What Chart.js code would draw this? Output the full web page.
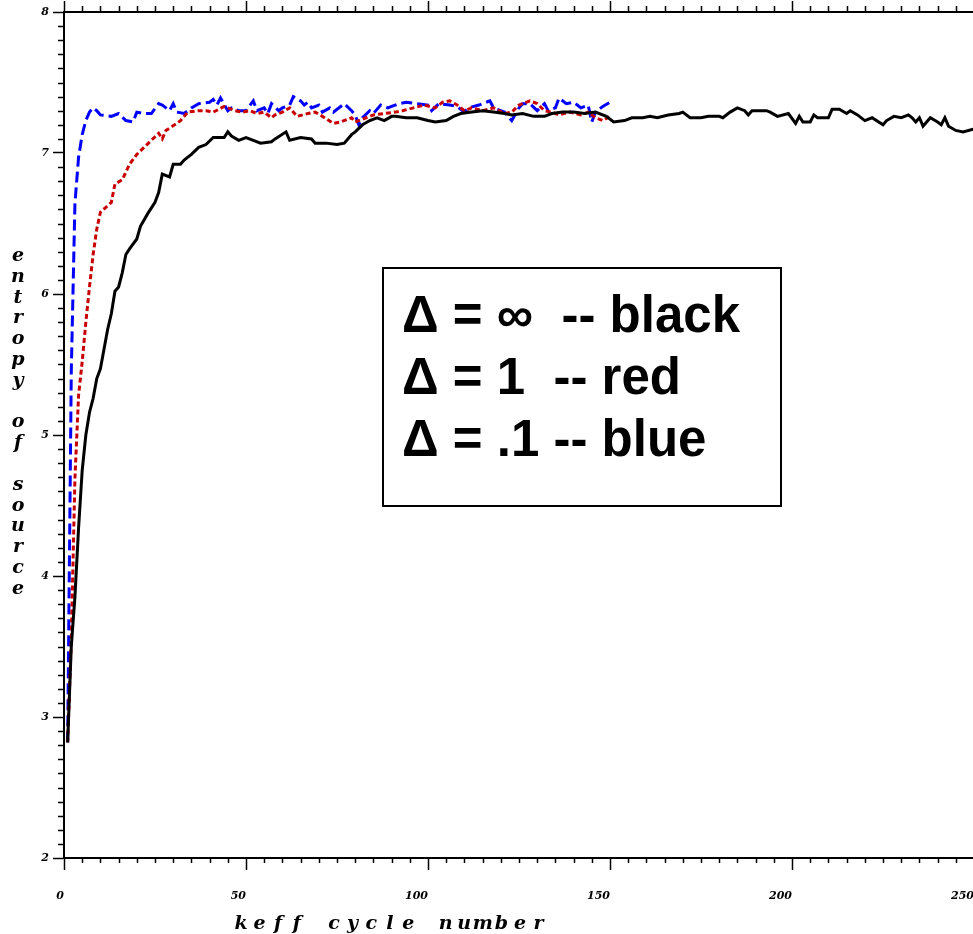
<!DOCTYPE html>
<html>
<head>
<meta charset="utf-8">
<title>entropy of source</title>
<script src="https://cdn.jsdelivr.net/npm/chart.js@4.4.0/dist/chart.umd.min.js"></script>
<style>
  html, body { margin: 0; padding: 0; background: #fff; overflow: hidden; }
  #wrap { width: 1000px; height: 934px; }
</style>
</head>
<body>
<div id="wrap"><canvas id="graph_entropy" width="1000" height="934"></canvas></div>
<script>

// values (cycle / entropy)
const blackCycles = [1, 2, 3, 4, 5, 6, 7, 8, 9, 10, 11, 12, 13, 14, 15, 16, 17, 18, 20, 21, 23, 25, 26, 27, 29, 30, 32, 33, 35, 37, 39, 41, 44, 45, 46, 48, 50, 52, 54, 57, 58, 61, 62, 65, 68, 69, 72, 75, 77, 79, 80, 82, 84, 86, 88, 90, 91, 94, 97, 100, 102, 105, 107, 109, 112, 115, 118, 121, 123, 126, 129, 132, 134, 137, 140, 143, 146, 149, 151, 154, 156, 159, 161, 163, 166, 169, 170, 172, 175, 177, 180, 181, 183, 185, 187, 188, 189, 193, 194, 196, 199, 201, 202, 203, 205, 206, 207, 210, 211, 213, 215, 216, 218, 220, 222, 225, 226, 228, 230, 232, 233, 234, 235, 236, 238, 240, 241, 242, 243, 245, 247, 250];
const blackEntropy = [2.82, 3.5, 3.85, 4.34, 4.75, 5.0, 5.16, 5.26, 5.40, 5.47, 5.61, 5.75, 5.86, 6.02, 6.05, 6.15, 6.28, 6.32, 6.39, 6.48, 6.57, 6.65, 6.72, 6.85, 6.83, 6.92, 6.92, 6.95, 6.99, 7.04, 7.06, 7.11, 7.11, 7.15, 7.12, 7.09, 7.11, 7.09, 7.07, 7.08, 7.10, 7.15, 7.09, 7.11, 7.10, 7.07, 7.07, 7.06, 7.07, 7.13, 7.15, 7.20, 7.23, 7.25, 7.23, 7.26, 7.26, 7.25, 7.25, 7.23, 7.22, 7.23, 7.26, 7.28, 7.29, 7.30, 7.29, 7.28, 7.27, 7.28, 7.26, 7.26, 7.28, 7.29, 7.29, 7.28, 7.29, 7.26, 7.22, 7.23, 7.25, 7.25, 7.26, 7.25, 7.27, 7.28, 7.29, 7.25, 7.25, 7.26, 7.26, 7.25, 7.29, 7.32, 7.30, 7.27, 7.30, 7.30, 7.29, 7.26, 7.28, 7.21, 7.26, 7.22, 7.22, 7.27, 7.25, 7.25, 7.31, 7.31, 7.28, 7.30, 7.27, 7.23, 7.25, 7.20, 7.23, 7.26, 7.25, 7.27, 7.25, 7.22, 7.25, 7.19, 7.25, 7.22, 7.20, 7.25, 7.19, 7.16, 7.15, 7.17];

const redCycles = [1, 2, 3, 4, 5, 6, 7, 8, 9, 10, 13, 14, 16, 18, 20, 22, 24, 26, 27, 28, 31, 32, 34, 37, 39, 41, 44, 47, 49, 51, 53, 55, 57, 58, 60, 62, 64, 67, 69, 71, 74, 76, 79, 80, 83, 85, 88, 91, 93, 96, 99, 102, 104, 106, 108, 110, 112, 115, 118, 121, 123, 125, 128, 130, 132, 134, 136, 139, 142, 144, 146, 148, 150];
const redEntropy = [2.82, 3.55, 4.69, 5.28, 5.52, 5.80, 6.05, 6.28, 6.46, 6.58, 6.65, 6.78, 6.81, 6.92, 6.99, 7.04, 7.09, 7.14, 7.10, 7.16, 7.21, 7.23, 7.29, 7.30, 7.30, 7.29, 7.33, 7.30, 7.29, 7.30, 7.28, 7.29, 7.25, 7.27, 7.29, 7.32, 7.26, 7.28, 7.29, 7.26, 7.21, 7.22, 7.25, 7.22, 7.25, 7.27, 7.28, 7.29, 7.30, 7.32, 7.34, 7.32, 7.36, 7.37, 7.34, 7.30, 7.32, 7.30, 7.32, 7.28, 7.29, 7.34, 7.37, 7.35, 7.30, 7.29, 7.27, 7.29, 7.27, 7.29, 7.25, 7.23, 7.26];

const blueCycles = [1, 2, 3, 4, 5, 6, 7, 8, 9, 10, 13, 15, 17, 19, 20, 22, 24, 26, 27, 29, 30, 31, 33, 35, 37, 40, 41, 42, 43, 45, 46, 48, 50, 52, 53, 55, 56, 57, 59, 60, 62, 63, 65, 66, 67, 68, 70, 71, 73, 74, 76, 77, 79, 80, 81, 82, 84, 85, 87, 89, 90, 92, 94, 97, 100, 101, 103, 106, 108, 110, 111, 114, 117, 118, 121, 122, 123, 125, 126, 128, 130, 132, 133, 135, 136, 138, 140, 142, 144, 145, 146, 148, 150];
const blueEntropy = [2.82, 5.45, 6.64, 6.97, 7.13, 7.23, 7.29, 7.32, 7.30, 7.27, 7.26, 7.28, 7.23, 7.22, 7.29, 7.28, 7.28, 7.35, 7.34, 7.30, 7.35, 7.29, 7.28, 7.32, 7.35, 7.36, 7.38, 7.34, 7.39, 7.30, 7.32, 7.30, 7.30, 7.37, 7.30, 7.32, 7.28, 7.35, 7.30, 7.32, 7.34, 7.40, 7.37, 7.34, 7.36, 7.32, 7.34, 7.29, 7.32, 7.29, 7.33, 7.35, 7.30, 7.27, 7.20, 7.25, 7.30, 7.28, 7.34, 7.32, 7.33, 7.35, 7.36, 7.35, 7.34, 7.30, 7.35, 7.34, 7.33, 7.29, 7.32, 7.34, 7.37, 7.32, 7.29, 7.26, 7.23, 7.32, 7.35, 7.35, 7.30, 7.35, 7.30, 7.32, 7.39, 7.35, 7.36, 7.32, 7.34, 7.22, 7.29, 7.33, 7.36];

const xTicks = [0, 50, 100, 150, 200, 250];
const yTicks = [2, 3, 4, 5, 6, 7, 8];
const xTitle = 'keff cycle number';
const yTitle = 'entropy of source';
const legendLines = ['\u0394 = \u221e  -- black', '\u0394 = 1  -- red', '\u0394 = .1 -- blue'];

function pairs(xs, ys) {
	return xs.map((x, i) => ({ x: x, y: ys[i] }));
}

const tickFont = { family: '"DejaVu Serif", serif', size: 11, style: 'italic', weight: 'bold' };

// minor ticks, top axis, frame, titles and the text box
const extras = {
	id: 'extras',
	afterDraw(chart) {
		const c = chart.ctx;
		const a = chart.chartArea;
		const xs = chart.scales.x;
		const ys = chart.scales.y;
		c.save();
		c.strokeStyle = '#000';
		c.lineWidth = 2;
		c.beginPath();
		c.moveTo(a.left, a.top);
		c.lineTo(a.right, a.top);
		c.lineTo(a.right, a.bottom);
		c.stroke();

		c.lineWidth = 1.5;
		c.beginPath();
		for (let v = 0; v <= 250; v += 5) {
			const px = Math.round(xs.getPixelForValue(v)) + 0.5;
			const major = v % 50 === 0;
			if (!major) {
				c.moveTo(px, a.bottom);
				c.lineTo(px, a.bottom + 5);
			}
			c.moveTo(px, a.top);
			c.lineTo(px, a.top - (major ? 11 : 6));
		}
		for (let k = 20; k <= 80; k++) {
			if (k % 10 === 0) continue;
			const py = Math.round(ys.getPixelForValue(k / 10)) + 0.5;
			c.moveTo(a.left, py);
			c.lineTo(a.left - 6, py);
		}
		c.stroke();

		// axis titles, one glyph per cell like the old plotter font
		c.fillStyle = '#000';
		c.font = 'italic bold 19px "DejaVu Serif", serif';
		c.textAlign = 'center';
		c.textBaseline = 'middle';
		for (let i = 0; i < xTitle.length; i++) {
			c.fillText(xTitle[i], 241 + i * 18.6, 924);
		}
		for (let i = 0; i < yTitle.length; i++) {
			c.fillText(yTitle[i], 18, 256 + i * 20.8);
		}

		// text box
		c.lineWidth = 2;
		c.strokeRect(383, 268, 398, 238);
		c.font = 'bold 51px "Liberation Sans", Arial, sans-serif';
		c.textAlign = 'left';
		c.textBaseline = 'alphabetic';
		legendLines.forEach((t, i) => c.fillText(t, 402, 332 + i * 62));
		c.restore();
	}
};

const ctx = document.getElementById('graph_entropy');
const myChart = new Chart(ctx, {
	type: 'line',
	data: {
		datasets: [
			{ // black - solid
				label: 'black',
				data: pairs(blackCycles, blackEntropy),
				borderColor: '#000000',
				borderWidth: 3,
			},
			{ // red - short dashes
				label: 'red',
				data: pairs(redCycles, redEntropy),
				borderColor: '#c80000',
				borderWidth: 3,
				borderDash: [5, 3],
			},
			{ // blue - long dashes
				label: 'blue',
				data: pairs(blueCycles, blueEntropy),
				borderColor: '#0000ff',
				borderWidth: 3,
				borderDash: [11, 5],
			}
		]
	},
	options: {
		responsive: false,
		animation: false,
		devicePixelRatio: 1,
		layout: { padding: { top: 12, right: 26, bottom: 0, left: 0 } },
		elements: { point: { radius: 0 }, line: { tension: 0 } },
		plugins: { legend: { display: false }, tooltip: { enabled: false } },
		scales: {
			x: {
				type: 'linear',
				min: 0,
				max: 250,
				afterBuildTicks: s => { s.ticks = xTicks.map(v => ({ value: v })); },
				afterFit: s => { s.height = 76; s.paddingLeft = 0; s.paddingRight = 0; },
				border: { color: '#000', width: 2 },
				grid: { drawOnChartArea: false, tickLength: 12, tickColor: '#000', tickWidth: 1.5 },
				ticks: { color: '#000', font: tickFont, align: 'end', padding: 20, maxRotation: 0, autoSkip: false }
			},
			y: {
				min: 2,
				max: 8,
				afterBuildTicks: s => { s.ticks = yTicks.map(v => ({ value: v })); },
				afterFit: s => { s.width = 64; s.paddingTop = 0; s.paddingBottom = 0; },
				border: { color: '#000', width: 2 },
				grid: { drawOnChartArea: false, tickLength: 11, tickColor: '#000', tickWidth: 1.5 },
				ticks: { color: '#000', font: tickFont, padding: 4 }
			}
		}
	},
	plugins: [extras]
});

</script>
</body>
</html>
